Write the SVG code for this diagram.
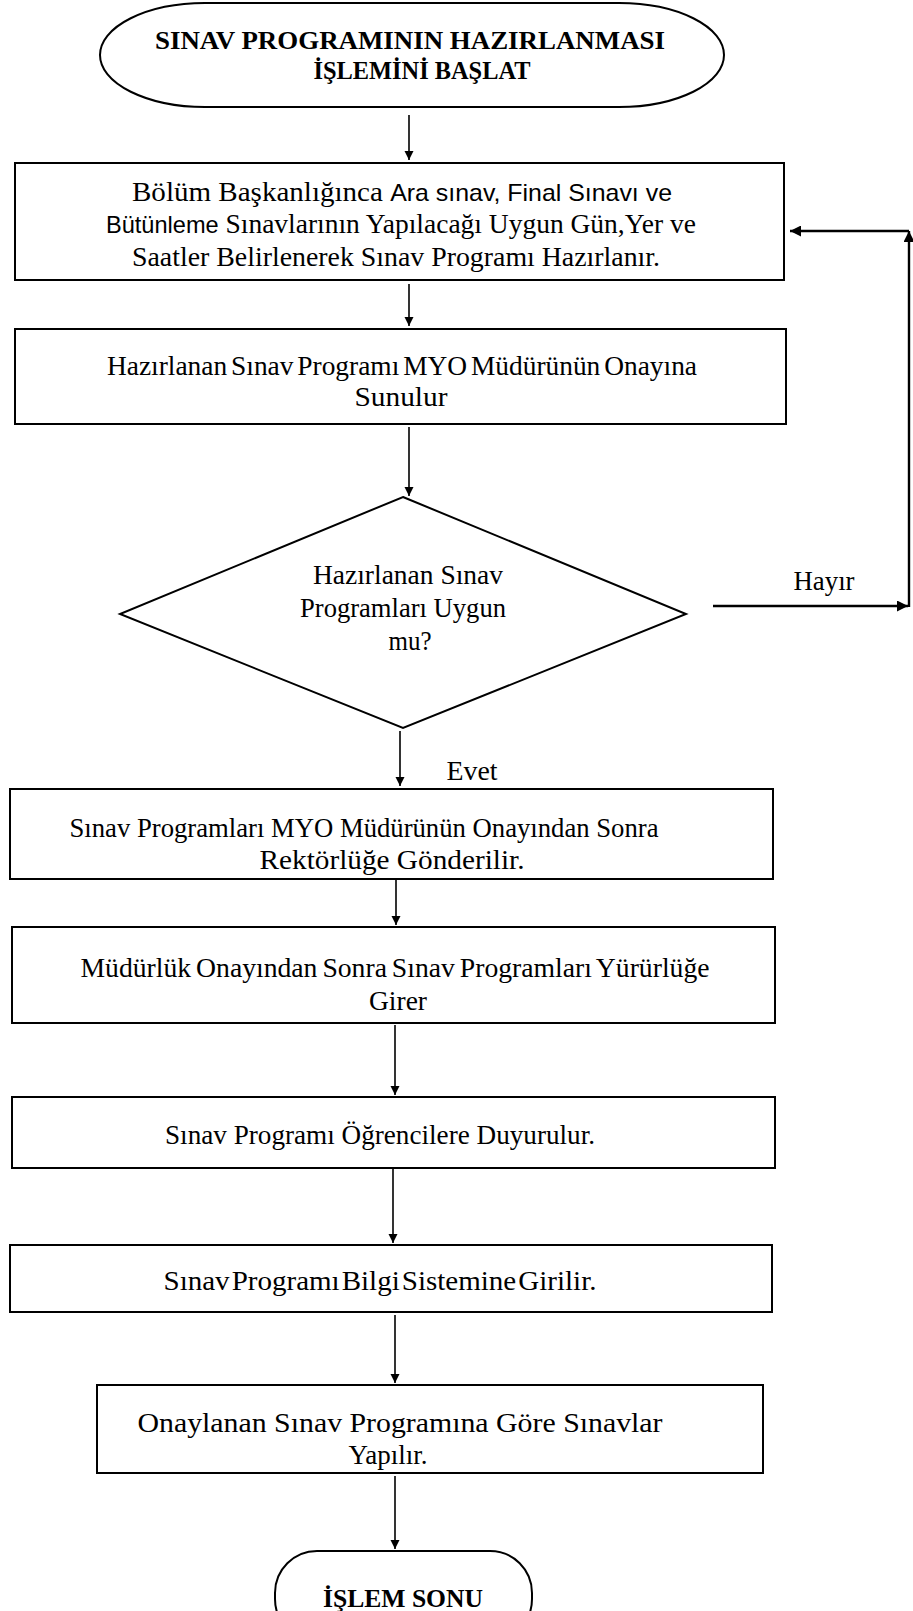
<svg xmlns="http://www.w3.org/2000/svg" width="913" height="1611" viewBox="0 0 913 1611">
  <style>
    .box { fill: #ffffff; stroke: #000000; stroke-width: 2; }
    .t { font-family: "Liberation Serif", "Times New Roman", serif; font-size: 28px; fill: #000; text-anchor: middle; }
    .s { font-family: "Liberation Sans", Arial, sans-serif; font-size: 24px; }
    .b { font-family: "Liberation Serif", "Times New Roman", serif; font-size: 26px; font-weight: bold; fill: #000; text-anchor: middle; }
    .ln { fill: none; stroke: #000; stroke-width: 1.6; }
    .lnb { fill: none; stroke: #000; stroke-width: 2.4; }
  </style>
  <defs>
    <marker id="ah" viewBox="0 0 10 10" refX="10" refY="5" markerWidth="9" markerHeight="10" markerUnits="userSpaceOnUse" orient="auto">
      <path d="M0,0 L10,5 L0,10 Z" fill="#000"/>
    </marker>
    <marker id="ahb" viewBox="0 0 10 10" refX="10" refY="5" markerWidth="11" markerHeight="11" markerUnits="userSpaceOnUse" orient="auto">
      <path d="M0,0 L10,5 L0,10 Z" fill="#000"/>
    </marker>
  </defs>

  <!-- connectors -->
  <g id="connectors">
    <line class="ln" x1="409" y1="115" x2="409" y2="160" marker-end="url(#ah)"/>
    <line class="ln" x1="409" y1="284" x2="409" y2="326" marker-end="url(#ah)"/>
    <line class="ln" x1="409" y1="427" x2="409" y2="496" marker-end="url(#ah)"/>
    <line class="ln" x1="400" y1="731" x2="400" y2="786" marker-end="url(#ah)"/>
    <line class="ln" x1="396" y1="880" x2="396" y2="925" marker-end="url(#ah)"/>
    <line class="ln" x1="395" y1="1025" x2="395" y2="1095" marker-end="url(#ah)"/>
    <line class="ln" x1="393" y1="1169" x2="393" y2="1243" marker-end="url(#ah)"/>
    <line class="ln" x1="395" y1="1315" x2="395" y2="1383" marker-end="url(#ah)"/>
    <line class="ln" x1="395" y1="1476" x2="395" y2="1549" marker-end="url(#ah)"/>
    <!-- "Hayır" loop back to the first step -->
    <line class="lnb" x1="713" y1="606" x2="908" y2="606" marker-end="url(#ahb)"/>
    <line class="lnb" x1="909" y1="607" x2="909" y2="231" marker-end="url(#ahb)"/>
    <line class="lnb" x1="909" y1="231" x2="790" y2="231" marker-end="url(#ahb)"/>
    <text class="t" x="824" y="590" textLength="61" lengthAdjust="spacingAndGlyphs">Hayır</text>
    <text class="t" x="472" y="780" textLength="51" lengthAdjust="spacingAndGlyphs">Evet</text>
  </g>

  <g id="start">
    <rect class="box" x="100" y="3" width="624" height="104" rx="105" ry="52"/>
    <text class="b" x="410" y="49" textLength="510" lengthAdjust="spacingAndGlyphs">SINAV  PROGRAMININ HAZIRLANMASI</text>
    <text class="b" x="422" y="79" textLength="217" lengthAdjust="spacingAndGlyphs">İŞLEMİNİ BAŞLAT</text>
  </g>

  <g id="step1">
    <rect class="box" x="15" y="163" width="769" height="117"/>
    <text class="t" x="402" y="201" textLength="540" lengthAdjust="spacingAndGlyphs">Bölüm Başkanlığınca <tspan class="s">Ara sınav,  Final Sınavı ve</tspan></text>
    <text class="t" x="401" y="233" textLength="590" lengthAdjust="spacingAndGlyphs"><tspan class="s">Bütünleme</tspan> Sınavlarının Yapılacağı Uygun Gün,Yer ve</text>
    <text class="t" x="396" y="266" textLength="528" lengthAdjust="spacingAndGlyphs">Saatler Belirlenerek Sınav Programı  Hazırlanır.</text>
  </g>

  <g id="step2">
    <rect class="box" x="15" y="329" width="771" height="95"/>
    <text class="t" x="402" y="375" textLength="590" lengthAdjust="spacingAndGlyphs" word-spacing="-3">Hazırlanan Sınav Programı MYO Müdürünün Onayına</text>
    <text class="t" x="401" y="406" textLength="93" lengthAdjust="spacingAndGlyphs">Sunulur</text>
  </g>

  <g id="decision">
    <polygon class="box" points="403,497 686,614 403,728 120,614" stroke-width="1.6"/>
    <text class="t" x="408" y="584" textLength="190" lengthAdjust="spacingAndGlyphs">Hazırlanan Sınav</text>
    <text class="t" x="403" y="617" textLength="206" lengthAdjust="spacingAndGlyphs">Programları  Uygun</text>
    <text class="t" x="410" y="650" textLength="43" lengthAdjust="spacingAndGlyphs">mu?</text>
  </g>

  <g id="step3">
    <rect class="box" x="10" y="789" width="763" height="90"/>
    <text class="t" x="364" y="837" textLength="589" lengthAdjust="spacingAndGlyphs">Sınav Programları MYO Müdürünün Onayından Sonra</text>
    <text class="t" x="392" y="869" textLength="265" lengthAdjust="spacingAndGlyphs">Rektörlüğe  Gönderilir.</text>
  </g>

  <g id="step4">
    <rect class="box" x="12" y="927" width="763" height="96"/>
    <text class="t" x="395" y="977" textLength="629" lengthAdjust="spacingAndGlyphs" word-spacing="-2">Müdürlük Onayından Sonra Sınav Programları Yürürlüğe</text>
    <text class="t" x="398" y="1010" textLength="58" lengthAdjust="spacingAndGlyphs">Girer</text>
  </g>

  <g id="step5">
    <rect class="box" x="12" y="1097" width="763" height="71"/>
    <text class="t" x="380" y="1144" textLength="430" lengthAdjust="spacingAndGlyphs">Sınav  Programı  Öğrencilere  Duyurulur.</text>
  </g>

  <g id="step6">
    <rect class="box" x="10" y="1245" width="762" height="67"/>
    <text class="t" x="380" y="1290" textLength="433" lengthAdjust="spacingAndGlyphs" word-spacing="-5">Sınav Programı Bilgi Sistemine Girilir.</text>
  </g>

  <g id="step7">
    <rect class="box" x="97" y="1385" width="666" height="88"/>
    <text class="t" x="400" y="1432" textLength="525" lengthAdjust="spacingAndGlyphs">Onaylanan  Sınav  Programına  Göre  Sınavlar</text>
    <text class="t" x="388" y="1464" textLength="79" lengthAdjust="spacingAndGlyphs">Yapılır.</text>
  </g>

  <g id="end">
    <rect class="box" x="275" y="1551" width="257" height="90" rx="42" ry="42" stroke-width="1.6"/>
    <text class="b" x="403" y="1607" textLength="160" lengthAdjust="spacingAndGlyphs">İŞLEM SONU</text>
  </g>
</svg>
